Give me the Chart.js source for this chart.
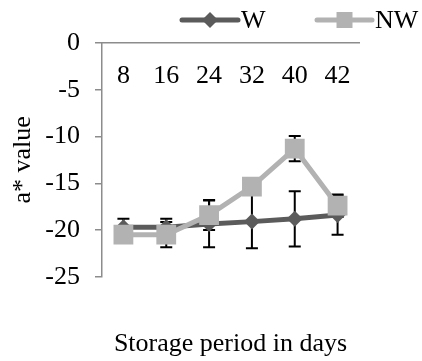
<!DOCTYPE html>
<html>
<head>
<meta charset="utf-8">
<script src="https://cdn.jsdelivr.net/npm/chart.js@4"></script>
<style>
  html, body { margin: 0; padding: 0; background: #fff; }
  #wrap { width: 422px; height: 361px; }
</style>
</head>
<body>
<div id="wrap"><canvas id="chart"></canvas></div>
<script>
// --- Data ---
const days = ['8', '16', '24', '32', '40', '42'];
const wValues = [-19.7, -19.7, -19.35, -19.1, -18.8, -18.4];
const nwValues = [-20.5, -20.5, -18.4, -15.35, -11.3, -17.4];
const wErrors = [0.9, 0.9, 2.5, 2.85, 2.95, 2.1];
const nwErrors = [0.6, 1.35, 1.6, 0.8, 1.35, 1.2];
const yTicks = [0, -5, -10, -15, -20, -25];

const W_COLOR = '#5b5b5b';
const NW_COLOR = '#b2b2b2';
const AXIS_COLOR = '#8c8c8c';

Chart.defaults.font.family = '"Liberation Serif", "Times New Roman", serif';
Chart.defaults.font.size = 26;
Chart.defaults.color = '#000';

// --- Error bars, drawn under the lines and markers ---
const errorBars = {
  id: 'errorBars',
  beforeDatasetsDraw(chart) {
    const { ctx, scales: { x, y } } = chart;
    ctx.save();
    ctx.strokeStyle = '#000';
    ctx.lineWidth = 2;
    chart.data.datasets.forEach(ds => {
      ds.data.forEach((v, i) => {
        const px = x.getPixelForValue(i);
        const top = y.getPixelForValue(v + ds.errors[i]);
        const bot = y.getPixelForValue(v - ds.errors[i]);
        ctx.beginPath();
        ctx.moveTo(px, top); ctx.lineTo(px, bot);
        ctx.moveTo(px - 6, top); ctx.lineTo(px + 6, top);
        ctx.moveTo(px - 6, bot); ctx.lineTo(px + 6, bot);
        ctx.stroke();
      });
    });
    ctx.restore();
  }
};

// --- Legend (line + marker, Excel style) ---
const lineLegend = {
  id: 'lineLegend',
  afterDraw(chart) {
    const { ctx } = chart;
    const items = [
      { ds: chart.data.datasets[0], x0: 182, x1: 238, radius: 8 },
      { ds: chart.data.datasets[1], x0: 317, x1: 372, radius: 11.3 },
    ];
    const cy = 20;
    ctx.save();
    items.forEach(it => {
      ctx.strokeStyle = it.ds.borderColor;
      ctx.fillStyle = it.ds.borderColor;
      ctx.lineWidth = 5;
      ctx.lineCap = 'round';
      ctx.beginPath();
      ctx.moveTo(it.x0, cy); ctx.lineTo(it.x1, cy);
      ctx.stroke();
      Chart.helpers.drawPoint(ctx, { pointStyle: it.ds.pointStyle, radius: it.radius, rotation: 0, borderWidth: 0 },
        (it.x0 + it.x1) / 2, cy);
      ctx.fillStyle = '#000';
      ctx.font = '26px "Liberation Serif", serif';
      ctx.textBaseline = 'middle';
      ctx.textAlign = 'left';
      ctx.fillText(it.ds.label, it.x1 + 3, cy + 1);
    });
    ctx.restore();
  }
};

new Chart(document.getElementById('chart'), {
  type: 'line',
  data: {
    labels: days,
    datasets: [
      {
        label: 'W',
        data: wValues,
        errors: wErrors,
        borderColor: W_COLOR,
        backgroundColor: W_COLOR,
        borderWidth: 5,
        pointStyle: 'rectRot',
        pointRadius: 8,
        pointBorderWidth: 0,
        pointHoverRadius: 8,
        order: 2,
      },
      {
        label: 'NW',
        data: nwValues,
        errors: nwErrors,
        borderColor: NW_COLOR,
        backgroundColor: NW_COLOR,
        borderWidth: 5,
        pointStyle: 'rect',
        pointRadius: 14,
        pointBorderWidth: 0,
        pointHoverRadius: 14,
        order: 1,
      },
    ],
  },
  options: {
    responsive: true,
    maintainAspectRatio: false,
    animation: false,
    layout: { padding: { top: 43, right: 63, left: 0, bottom: 0 } },
    plugins: {
      legend: { display: false },
      tooltip: { enabled: false },
    },
    scales: {
      x: {
        type: 'category',
        offset: true,
        position: { y: 0 },
        grid: { display: false, drawTicks: false },
        border: { display: true, color: AXIS_COLOR, width: 1.5 },
        ticks: { padding: 18, maxRotation: 0, autoSkip: false },
      },
      // bottom axis only carries the title, centred under the plot
      xTitle: {
        type: 'category',
        labels: days,
        offset: true,
        position: 'bottom',
        grid: { display: false, drawTicks: false },
        border: { display: false },
        ticks: { display: false },
        title: {
          display: true,
          text: 'Storage period in days',
          padding: { top: 52, bottom: 1 },
        },
      },
      y: {
        min: -25,
        max: 0,
        afterBuildTicks: (scale) => { scale.ticks = yTicks.map(v => ({ value: v })); },
        afterFit: (scale) => { scale.width = 102; },
        grid: { drawOnChartArea: false, drawTicks: true, tickLength: 7, color: AXIS_COLOR, lineWidth: 1.5 },
        border: { color: AXIS_COLOR, width: 1.5 },
        ticks: { padding: 15 },
        title: {
          display: true,
          text: 'a* value',
          padding: { top: 8, bottom: 0 },
        },
      },
    },
  },
  plugins: [errorBars, lineLegend],
});
</script>
</body>
</html>
